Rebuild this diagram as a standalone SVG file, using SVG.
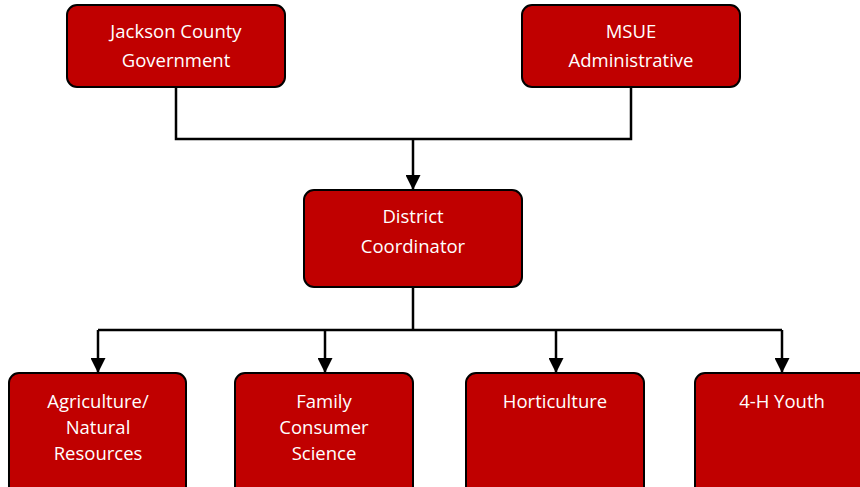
<svg xmlns="http://www.w3.org/2000/svg" width="860" height="487" viewBox="0 0 860 487">
<style>
.box{fill:#C00000;stroke:#000;stroke-width:2}
.t{font-family:"Open Sans","Liberation Sans",sans-serif;font-size:18.5px;fill:#fff;text-anchor:middle}
.c{fill:none;stroke:#000;stroke-width:2.5}
</style>
<defs>
<marker id="ah" markerWidth="6" markerHeight="6" refX="5.6" refY="3" orient="auto" markerUnits="strokeWidth">
<path d="M0,0 L6,3 L0,6 Z" fill="#000"/>
</marker>
</defs>
<rect width="860" height="487" fill="#fff"/>
<g id="connectors">
<path class="c" d="M176,87 V139 H631 V87"/>
<path class="c" d="M413,139 V189" marker-end="url(#ah)"/>
<path class="c" d="M413,287 V330"/>
<path class="c" d="M98,330 H782"/>
<path class="c" d="M98,330 V372" marker-end="url(#ah)"/>
<path class="c" d="M325,330 V372" marker-end="url(#ah)"/>
<path class="c" d="M556,330 V372" marker-end="url(#ah)"/>
<path class="c" d="M782,330 V372" marker-end="url(#ah)"/>
</g>
<g id="jackson">
<rect class="box" x="67" y="5" width="218" height="82" rx="10"/>
<text class="t" x="176" y="38">Jackson County</text>
<text class="t" x="176" y="67">Government</text>
</g>
<g id="msue">
<rect class="box" x="522" y="5" width="218" height="82" rx="10"/>
<text class="t" x="631" y="38">MSUE</text>
<text class="t" x="631" y="67">Administrative</text>
</g>
<g id="district">
<rect class="box" x="304" y="190" width="218" height="97" rx="10"/>
<text class="t" x="413" y="223">District</text>
<text class="t" x="413" y="253">Coordinator</text>
</g>
<g id="agriculture">
<rect class="box" x="9" y="373" width="177" height="130" rx="10"/>
<text class="t" x="98" y="408">Agriculture/</text>
<text class="t" x="98" y="434">Natural</text>
<text class="t" x="98" y="460">Resources</text>
</g>
<g id="family">
<rect class="box" x="235" y="373" width="178" height="130" rx="10"/>
<text class="t" x="324" y="408">Family</text>
<text class="t" x="324" y="434">Consumer</text>
<text class="t" x="324" y="460">Science</text>
</g>
<g id="horticulture">
<rect class="box" x="466" y="373" width="178" height="130" rx="10"/>
<text class="t" x="555" y="408">Horticulture</text>
</g>
<g id="youth">
<rect class="box" x="695" y="373" width="178" height="130" rx="10"/>
<text class="t" x="782" y="408">4-H Youth</text>
</g>
</svg>
